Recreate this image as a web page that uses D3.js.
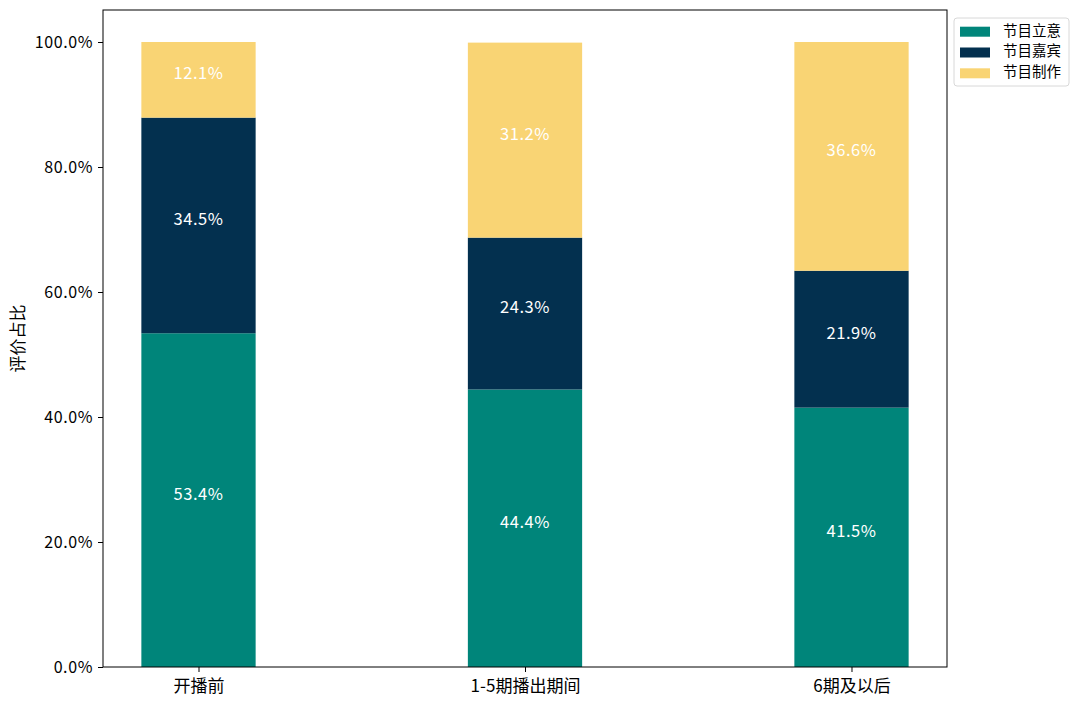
<!DOCTYPE html>
<html><head><meta charset="utf-8">
<script src="https://cdn.jsdelivr.net/npm/d3@7"></script>
<style>body{margin:0;background:#fff;} text{font-family:"Noto Sans CJK SC","DejaVu Sans",sans-serif;}</style>
</head><body><svg id="c" width="1080" height="708"></svg>
<script>
const categories = ["开播前", "1-5期播出期间", "6期及以后"];
const seriesNames = ["节目立意", "节目嘉宾", "节目制作"];
const liyi = [53.4, 44.4, 41.5];
const jiabin = [34.5, 24.3, 21.9];
const zhizuo = [12.1, 31.2, 36.6];
const yTicks = [0, 20, 40, 60, 80, 100];
const colors = ["#00857a", "#03304f", "#f9d474"];

const svg = d3.select("#c");
const L = 103, R = 947, T = 10, B = 667;
const x = d3.scaleLinear().domain([-0.2925, 2.2925]).range([L, R]);
const y = d3.scaleLinear().domain([0, 105.12]).range([B, T]);
const bw = x(0.35) - x(0);
const series = [liyi, jiabin, zhizuo];

categories.forEach((c, i) => {
  let base = 0;
  series.forEach((s, j) => {
    const v = s[i];
    svg.append("rect").attr("x", x(i) - bw / 2).attr("width", bw)
      .attr("y", y(base + v)).attr("height", y(base) - y(base + v))
      .attr("fill", colors[j]);
    svg.append("text").attr("x", x(i)).attr("y", y(base + v / 2) - 5)
      .attr("text-anchor", "middle").attr("dominant-baseline", "middle")
      .attr("fill", "#fff").attr("font-size", 16.5).attr("letter-spacing", 0.5).text(v.toFixed(1) + "%");
    base += v;
  });
});

// frame
svg.append("rect").attr("x", L).attr("y", T).attr("width", R - L).attr("height", B - T)
  .attr("fill", "none").attr("stroke", "#000").attr("stroke-width", 1);

const yAxis = d3.axisLeft(y).tickValues(yTicks).tickFormat(d => d.toFixed(1) + "%").tickSize(5).tickPadding(5);
const ga = svg.append("g").attr("transform", `translate(${L},0)`).call(yAxis);
ga.select(".domain").remove();
ga.selectAll("text").attr("font-size", 16).attr("letter-spacing", 0.6).attr("fill", "#000").style("font-family", '"Noto Sans CJK SC",sans-serif');

const xAxis = d3.axisBottom(x).tickValues([0, 1, 2]).tickFormat(i => categories[i]).tickSize(5).tickPadding(8);
const gx = svg.append("g").attr("transform", `translate(0,${B})`).call(xAxis);
gx.select(".domain").remove();
gx.selectAll("text").attr("font-size", 17).attr("fill", "#000").style("font-family", '"Noto Sans CJK SC",sans-serif');

svg.append("text").attr("transform", `translate(24,${(T + B) / 2}) rotate(-90)`)
  .attr("text-anchor", "middle").attr("font-size", 17).text("评价占比");

// legend
const lg = svg.append("g");
lg.append("rect").attr("x", 954).attr("y", 18).attr("width", 115).attr("height", 68)
  .attr("fill", "#fff").attr("stroke", "#d8d8d8").attr("rx", 3);
seriesNames.forEach((n, j) => {
  const yy = 31.7 + j * 20.8;
  lg.append("rect").attr("x", 960).attr("y", yy - 5).attr("width", 30).attr("height", 10).attr("fill", colors[j]);
  lg.append("text").attr("x", 1003).attr("y", yy).attr("dominant-baseline", "middle")
    .attr("font-size", 14.5).text(n);
});
</script></body></html>
